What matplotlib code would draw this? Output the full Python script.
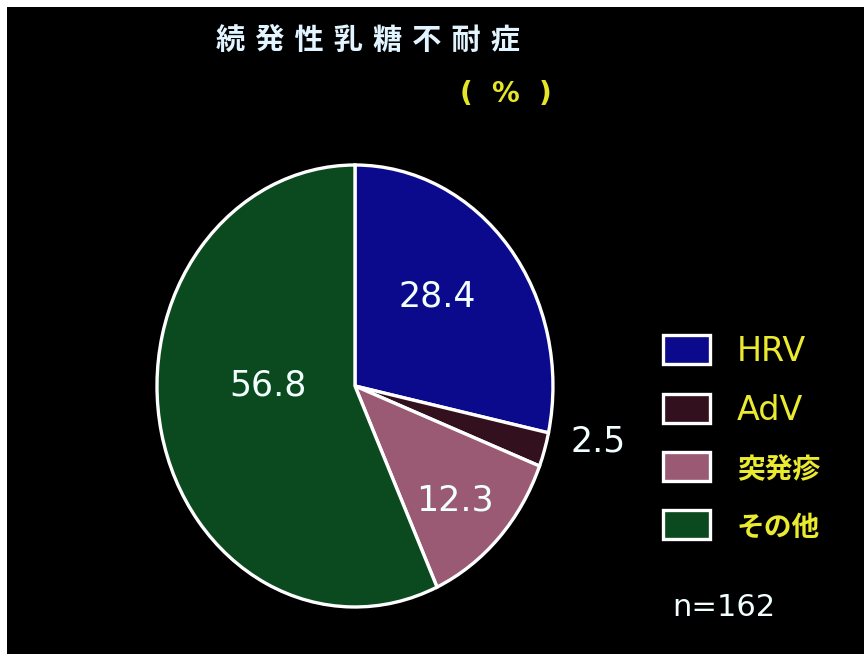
import matplotlib.pyplot as plt
from matplotlib.patches import Rectangle

plt.rcParams['font.family'] = ['DejaVu Sans', 'Noto Sans CJK JP']

labels = ['HRV', 'AdV', '突発疹', 'その他']
values = [28.4, 2.5, 12.3, 56.8]
colors = ['#0c0a8c', '#32101e', '#9a5a74', '#0b4a1e']
n_total = 162

fig = plt.figure(figsize=(8.64, 6.54), dpi=100, facecolor='white')
# black screen with a thin white margin on the top and left
fig.add_artist(Rectangle((7 / 864, 0), 1, 1 - 7 / 654, transform=fig.transFigure,
                         facecolor='black', edgecolor='none', zorder=0))

ax = fig.add_axes([0.1817, 0.0719, 0.4583, 0.6758])
ax.set_facecolor('none')
wedges, _ = ax.pie(values, colors=colors, startangle=90, counterclock=False,
                   radius=1.0, wedgeprops=dict(edgecolor='white', linewidth=2.4))
ax.set_aspect('auto')
ax.set_xlim(-1, 1)
ax.set_ylim(-1, 1)
ax.axis('off')
for w in wedges:
    w.set_clip_on(False)

# value labels
label_pos = [(0.414, 0.403), (1.227, -0.249), (0.505, -0.516), (-0.44, 0.0)]
for v, (x, y) in zip(values, label_pos):
    ax.text(x, y, f'{v:.1f}', color='#f2ffff', fontsize=25, ha='center', va='center')

fig.text(368 / 864, 1 - 41 / 654, ' '.join('続発性乳糖不耐症'), color='#e2f4ff',
         fontsize=21, fontweight='bold', ha='center', va='center')
fig.text(506 / 864, 1 - 94 / 654, '(  %  )', color='#e6e628', fontsize=20,
         fontweight='bold', ha='center', va='center')

leg = fig.legend(wedges, labels, loc='upper left', bbox_to_anchor=(663 / 864, 1 - 335 / 654),
                 frameon=False, fontsize=24, handlelength=1.42, handleheight=0.95,
                 handletextpad=0.8, labelspacing=0.77, borderpad=0, borderaxespad=0)
for t, lab in zip(leg.get_texts(), labels):
    t.set_color('#eaea30')
    if not lab.isascii():
        t.set_fontsize(20)
        t.set_fontweight('bold')

fig.text(724 / 864, 1 - 608 / 654, f'n={n_total}', color='#f2ffff', fontsize=22,
         ha='center', va='center')

fig.savefig('out.png', dpi=100, facecolor=fig.get_facecolor())
